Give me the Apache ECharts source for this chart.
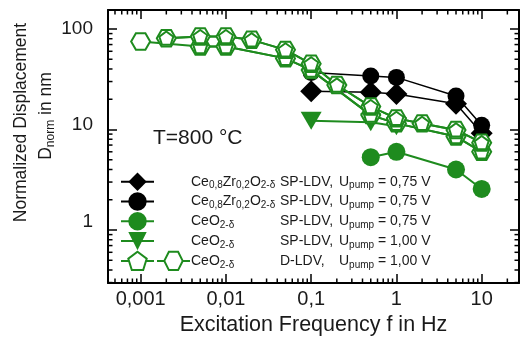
<!DOCTYPE html>
<html>
<head>
<meta charset="utf-8">
<script src="https://cdn.jsdelivr.net/npm/echarts@6/dist/echarts.min.js"></script>
<style>
html, body { margin: 0; padding: 0; background: #fff; }
#chart { width: 520px; height: 341px; }
</style>
</head>
<body>
<div id="chart"></div>
<script>
var GREEN = '#1e8b1e';
var FONT = 'Liberation Sans, Arial, sans-serif';

// axis ticks
var xTickValues = [0.001, 0.01, 0.1, 1, 10];
var xTickLabels = ['0,001', '0,01', '0,1', '1', '10'];
var yTickValues = [1, 10, 100];
var yTickLabels = ['1', '10', '100'];
var minorMantissa = [2, 3, 4, 5, 6, 7, 8, 9];
var xDecades = [0.0001, 0.001, 0.01, 0.1, 1, 10];
var yDecades = [0.1, 1, 10, 100];
var xMin = 0.000414, xMax = 27.4;
var yMin = 0.297, yMax = 154.5;

// Ce0,8Zr0,2O2-d SP-LDV 0,75 V (diamonds)
var czDiamondFreq = [0.1, 0.5, 1, 5, 10];
var czDiamondD = [24, 23.5, 22.5, 18, 9.2];
// Ce0,8Zr0,2O2-d SP-LDV 0,75 V (circles)
var czCircleFreq = [0.1, 0.5, 1, 5, 10];
var czCircleD = [37, 34, 33, 21.5, 11];
// CeO2-d SP-LDV 0,75 V
var ceCircleFreq = [0.5, 1, 5, 10];
var ceCircleD = [5.3, 6.0, 4.0, 2.56];
// CeO2-d SP-LDV 1,00 V
var ceTriFreq = [0.1, 0.5, 1];
var ceTriD = [12.2, 11.8, 10.8];
// CeO2-d D-LDV 1,00 V, two runs
var dldvAFreq = [0.002, 0.005, 0.01, 0.02, 0.05, 0.1, 0.2, 0.5, 1, 2, 5, 10];
var dldvAD = [81, 84, 84, 78, 62, 45, 27.7, 16.9, 12.9, 11.5, 9.9, 7.4];
var dldvBFreq = [0.001, 0.005, 0.01, 0.05, 0.1, 0.5, 1, 5, 10];
var dldvBD = [75, 67, 67, 51, 39, 13.9, 11.5, 8.5, 6.0];

var legendRows = ['czDiamond', 'czCircle', 'ceCircle', 'ceTri', 'dldvAPent'];

var PENTAGON = 'path://M10,0 L19.51,6.91 L15.88,18.09 L4.12,18.09 L0.49,6.91 Z';
var HEXAGON = 'path://M0,8.66 L5,0 L15,0 L20,8.66 L15,17.32 L5,17.32 Z';

function pairs(fs, ds) {
    return fs.map(function (f, i) { return [f, ds[i]]; });
}
function minorList(decades, lo, hi) {
    var out = [];
    decades.forEach(function (d) {
        minorMantissa.forEach(function (m) {
            var v = m * d;
            if (v > lo && v < hi) out.push(v);
        });
    });
    return out;
}
function findTick(values, v) {
    for (var i = 0; i < values.length; i++) {
        if (Math.abs(v / values[i] - 1) < 1e-6) return i;
    }
    return -1;
}

var xMinor = minorList(xDecades, xMin, xMax);
var yMinor = minorList(yDecades, yMin, yMax);

function xMinorItem(params, api) {
    var x = api.coord([api.value(0), 1])[0];
    var cs = params.coordSys;
    var st = { stroke: '#000', lineWidth: 1.5 };
    return { type: 'group', children: [
        { type: 'line', shape: { x1: x, y1: cs.y + cs.height, x2: x, y2: cs.y + cs.height - 4.5 }, style: st },
        { type: 'line', shape: { x1: x, y1: cs.y, x2: x, y2: cs.y + 4.5 }, style: st }
    ] };
}
function yMinorItem(params, api) {
    var y = api.coord([1, api.value(1)])[1];
    var cs = params.coordSys;
    var st = { stroke: '#000', lineWidth: 1.5 };
    return { type: 'group', children: [
        { type: 'line', shape: { x1: cs.x, y1: y, x2: cs.x + 4.5, y2: y }, style: st },
        { type: 'line', shape: { x1: cs.x + cs.width, y1: y, x2: cs.x + cs.width - 4.5, y2: y }, style: st }
    ] };
}

var axisLineStyle = { show: true, onZero: false, lineStyle: { color: '#000', width: 2 } };
var axisTickStyle = { show: true, inside: true, length: 9, lineStyle: { color: '#000', width: 1.5 } };

function openSeries(name, symbol, size, fs, ds) {
    return {
        name: name, type: 'line', data: pairs(fs, ds),
        symbol: symbol, symbolSize: size, symbolKeepAspect: true,
        itemStyle: { color: '#fff', borderColor: GREEN, borderWidth: 2 },
        lineStyle: { color: GREEN, width: 2 }, z: 5
    };
}
function legendItem(name, left, top) {
    return {
        data: [name], orient: 'vertical', left: left, top: top, padding: 0,
        itemWidth: 33, itemHeight: 23, selectedMode: false,
        formatter: function () { return ''; }
    };
}

var legends = legendRows.map(function (n, i) { return legendItem(n, 120, 170.2 + 19.8 * i); });
legends.push(legendItem('dldvAHex', 156, 170.2 + 19.8 * 4));

var myChart = echarts.init(document.getElementById('chart'));
myChart.setOption({
    animation: false,
    grid: { left: 108, right: 1, top: 10, bottom: 58 },
    xAxis: [
        {
            type: 'log', logBase: 10, min: xMin, max: xMax,
            axisLine: axisLineStyle, axisTick: axisTickStyle, splitLine: { show: false },
            axisLabel: {
                fontSize: 20, color: '#1a1a1a', fontFamily: FONT, margin: 6,
                showMinLabel: false, showMaxLabel: false,
                formatter: function (v) {
                    var i = findTick(xTickValues, v);
                    return i < 0 ? '' : xTickLabels[i];
                }
            },
            name: 'Excitation Frequency f in Hz', nameLocation: 'middle', nameGap: 27,
            nameTextStyle: { fontSize: 21.5, color: '#1a1a1a', fontFamily: FONT }
        },
        {
            type: 'log', logBase: 10, min: xMin, max: xMax, position: 'top',
            axisLine: axisLineStyle, axisTick: axisTickStyle, splitLine: { show: false },
            axisLabel: { show: false }
        }
    ],
    yAxis: [
        {
            type: 'log', logBase: 10, min: yMin, max: yMax,
            axisLine: axisLineStyle, axisTick: axisTickStyle, splitLine: { show: false },
            axisLabel: {
                fontSize: 19, color: '#1a1a1a', fontFamily: FONT, margin: 15,
                showMinLabel: false, showMaxLabel: false,
                formatter: function (v) {
                    var i = findTick(yTickValues, v);
                    return i < 0 ? '' : '{t' + i + '|' + yTickLabels[i] + '}';
                },
                rich: {
                    t0: { fontSize: 19, fontFamily: FONT, color: '#1a1a1a', padding: [0, 0, 16, 0] },
                    t1: { fontSize: 19, fontFamily: FONT, color: '#1a1a1a', padding: [0, 0, 9, 0] },
                    t2: { fontSize: 19, fontFamily: FONT, color: '#1a1a1a', padding: [0, 0, 1, 0] }
                }
            }
        },
        {
            type: 'log', logBase: 10, min: yMin, max: yMax, position: 'right',
            axisLine: axisLineStyle, axisTick: axisTickStyle, splitLine: { show: false },
            axisLabel: { show: false }
        }
    ],
    legend: legends,
    graphic: [
        {
            type: 'text', x: 153, y: 138,
            style: { text: 'T=800 °C', fontSize: 21, fontFamily: FONT, fill: '#1a1a1a', verticalAlign: 'middle' }
        },
        {
            type: 'text', x: 21, y: 122.5, rotation: Math.PI / 2,
            style: { text: 'Normalized Displacement', fontSize: 17.5, fontFamily: FONT, fill: '#1a1a1a', align: 'center', verticalAlign: 'middle' }
        },
        {
            type: 'text', x: 46, y: 116, rotation: Math.PI / 2,
            style: {
                text: 'D{s|norm} in nm', fontSize: 17.5, fontFamily: FONT, fill: '#1a1a1a', align: 'center', verticalAlign: 'middle',
                rich: { s: { fontSize: 12, fontFamily: FONT, fill: '#1a1a1a', padding: [9, 0, 0, 0] } }
            }
        },
        {
            type: 'text', x: 191, y: 171.8,
            style: {
                text: [
                    'Ce{s|0,8}Zr{s|0,2}O{s|2-δ}',
                    'Ce{s|0,8}Zr{s|0,2}O{s|2-δ}',
                    'CeO{s|2-δ}',
                    'CeO{s|2-δ}',
                    'CeO{s|2-δ}'
                ].join('\n'),
                fontSize: 14, fontFamily: FONT, fill: '#1a1a1a', lineHeight: 19.8, verticalAlign: 'top',
                rich: { s: { fontSize: 10, fontFamily: FONT, fill: '#1a1a1a', padding: [8, 0, 0, 0] } }
            }
        },
        {
            type: 'text', x: 280, y: 171.8,
            style: {
                text: ['SP-LDV,', 'SP-LDV,', 'SP-LDV,', 'SP-LDV,', 'D-LDV,'].join('\n'),
                fontSize: 14, fontFamily: FONT, fill: '#1a1a1a', lineHeight: 19.8, verticalAlign: 'top'
            }
        },
        {
            type: 'text', x: 339, y: 171.8,
            style: {
                text: [
                    'U{s|pump} = 0,75 V',
                    'U{s|pump} = 0,75 V',
                    'U{s|pump} = 0,75 V',
                    'U{s|pump} = 1,00 V',
                    'U{s|pump} = 1,00 V'
                ].join('\n'),
                fontSize: 14, fontFamily: FONT, fill: '#1a1a1a', lineHeight: 19.8, verticalAlign: 'top',
                rich: { s: { fontSize: 10, fontFamily: FONT, fill: '#1a1a1a', padding: [8, 0, 0, 0] } }
            }
        }
    ],
    series: [
        {
            name: 'czDiamond', type: 'line', data: pairs(czDiamondFreq, czDiamondD),
            symbol: 'diamond', symbolSize: 22,
            itemStyle: { color: '#000' }, lineStyle: { color: '#000', width: 1.5 }, z: 3
        },
        {
            name: 'czCircle', type: 'line', data: pairs(czCircleFreq, czCircleD),
            symbol: 'circle', symbolSize: 17,
            itemStyle: { color: '#000' }, lineStyle: { color: '#000', width: 1.5 }, z: 3
        },
        {
            name: 'ceCircle', type: 'line', data: pairs(ceCircleFreq, ceCircleD),
            symbol: 'circle', symbolSize: 18,
            itemStyle: { color: GREEN }, lineStyle: { color: GREEN, width: 2 }, z: 3
        },
        {
            name: 'ceTri', type: 'line', data: pairs(ceTriFreq, ceTriD),
            symbol: 'triangle', symbolRotate: 180, symbolSize: [21, 18],
            itemStyle: { color: GREEN }, lineStyle: { color: GREEN, width: 2 }, z: 3
        },
        openSeries('dldvBHex', HEXAGON, 19, dldvBFreq, dldvBD),
        openSeries('dldvBPent', PENTAGON, 14, dldvBFreq.slice(1), dldvBD.slice(1)),
        openSeries('dldvAHex', HEXAGON, 19, dldvAFreq, dldvAD),
        openSeries('dldvAPent', PENTAGON, 14, dldvAFreq, dldvAD),
        {
            type: 'custom', silent: true, renderItem: xMinorItem,
            data: xMinor.map(function (v) { return [v, 1]; }), z: 1
        },
        {
            type: 'custom', silent: true, renderItem: yMinorItem,
            data: yMinor.map(function (v) { return [1, v]; }), z: 1
        }
    ]
});
</script>
</body>
</html>
